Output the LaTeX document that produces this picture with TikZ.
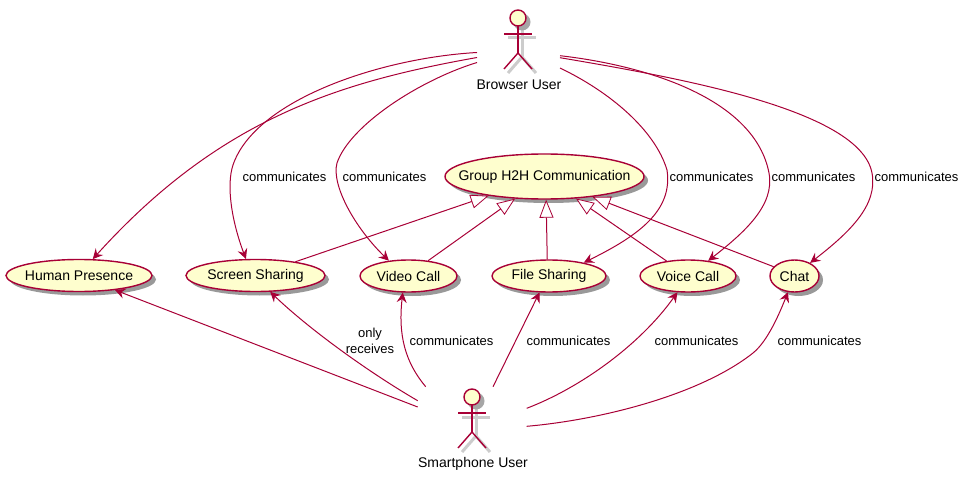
\documentclass[tikz,border=0pt]{standalone}
\usepackage{fontspec}
\setmainfont{Liberation Sans}
\usetikzlibrary{arrows.meta, shapes.geometric, shadows}
\definecolor{umlred}{HTML}{A80036}
\definecolor{umlfill}{HTML}{FEFECE}
\newcommand{\uctext}[1]{\makebox[0pt]{#1}}
\tikzset{
	usecase/.style={ellipse, draw=umlred, fill=umlfill, line width=1.4pt, inner sep=0pt, minimum height=32pt,
		font=\fontsize{14}{16}\selectfont, drop shadow={shadow xshift=4pt, shadow yshift=-4pt, fill=black, opacity=0.4}},
	comm/.style={font=\fontsize{13}{16}\selectfont, inner sep=0pt, align=center},
	actorlabel/.style={font=\fontsize{14}{16}\selectfont, inner sep=0pt},
	flow/.style={draw=umlred, line width=1pt, -{Stealth[length=10pt, width=10pt, inset=3.5pt, umlred]}},
	generalize/.style={draw=umlred, line width=1pt, -{Triangle[length=18pt, width=14pt, fill=white, line width=0.8pt]}},
	actor/.pic={
		% shadow first
		\draw[black!20, line width=3pt] (4,12) -- (4,39) (-10,20) -- (18,20);
		\draw[black!20, line width=3pt] (-10,55) -- (4,39) -- (18,55);
		\fill[black!35] (4,4) circle (8.5);
		% figure
		\draw[umlred, fill=umlfill, line width=1.4pt] (0,0) circle (8);
		\draw[umlred, line width=1.4pt] (0,8) -- (0,35) (-14,16) -- (14,16);
		\draw[umlred, line width=1.4pt] (-14,51) -- (0,35) -- (14,51);
	}
}

\begin{document}
\begin{tikzpicture}[x=1pt, y=-1pt]
	\useasboundingbox (0,0) rectangle (969,481);

	% Draw actors
	\pic at (518,18) {actor};
	\pic at (472,397) {actor};
	\node[actorlabel] (browserlabel) at (519,85) {Browser User};
	\node[actorlabel] (phonelabel) at (473,464) {Smartphone User};

	% Free ends next to the actors
	\coordinate (browserA) at (477,52.5);
	\coordinate (browserB) at (477,57.5);
	\coordinate (browserC) at (477,62.5);
	\coordinate (browserD) at (560,55.7);
	\coordinate (browserE) at (560,57.7);
	\coordinate (browserF) at (560,68);
	\coordinate (phoneA) at (417.7,407);
	\coordinate (phoneB) at (417.7,400.7);
	\coordinate (phoneC) at (425.7,386.7);
	\coordinate (phoneD) at (493,386.7);
	\coordinate (phoneE) at (526.7,408.3);
	\coordinate (phoneF) at (526.7,426.3);

	% Draw use cases
	\node[usecase, minimum width=199pt, minimum height=45pt] (group) at (544.5,176.5) {\uctext{Group H2H Communication}};
	\node[usecase, minimum width=146pt] (presence) at (79,275.5) {\uctext{Human Presence}};
	\node[usecase, minimum width=139pt] (screen) at (255.5,275.5) {\uctext{Screen Sharing}};
	\node[usecase, minimum width=97pt] (video) at (408.5,276) {\uctext{Video Call}};
	\node[usecase, minimum width=114pt] (file) at (549,276) {\uctext{File Sharing}};
	\node[usecase, minimum width=96pt] (voice) at (688,276) {\uctext{Voice Call}};
	\node[usecase, minimum width=49pt] (chat) at (794.5,276) {\uctext{Chat}};

	% Specialisations of the group use case
	\draw[generalize] (screen.19.8) -- (group.199.3);
	\draw[generalize] (video.38) -- (group.217);
	\draw[generalize] (file.96) -- (group.274);
	\draw[generalize] (voice.145) -- (group.325);
	\draw[generalize] (chat.156.6) -- (group.337.8);

	% Browser user to use cases
	\draw[flow] (browserB) .. controls (340,82) and (220,118) .. (presence.50);
	\draw[flow] (browserA) .. controls (380,58) and (255,100) .. (233,165)
		.. controls (226,186) and (232,222) .. (screen.120);
	\draw[flow] (browserC) .. controls (420,80) and (350,125) .. (337,163)
		.. controls (331,185) and (355,228) .. (video.142);
	\draw[flow] (browserF) .. controls (610,92) and (655,130) .. (667,170)
		.. controls (673,210) and (640,235) .. (file.21.5);
	\draw[flow] (browserD) .. controls (650,66) and (755,100) .. (769,173)
		.. controls (775,205) and (745,232) .. (voice.37);
	\draw[flow] (browserE) .. controls (680,78) and (860,110) .. (872,173)
		.. controls (878,205) and (850,232) .. (chat.40);

	% Smartphone user to use cases
	\draw[flow] (phoneA) -- (presence.-22);
	\draw[flow] (phoneB) .. controls (370,373) and (310,330) .. (screen.-48);
	\draw[flow] (phoneC) .. controls (405,362) and (398,335) .. (video.251);
	\draw[flow] (phoneD) -- (file.240.5);
	\draw[flow] (phoneE) .. controls (580,388) and (640,345) .. (voice.237);
	\draw[flow] (phoneF) .. controls (600,420) and (700,395) .. (753,353)
		.. controls (768,341) and (780,312) .. (chat.248);

	% Labels on the connectors
	\node[comm] (lblscreen) at (284.5,177) {communicates};
	\node[comm] (lblvideo) at (384.5,177) {communicates};
	\node[comm] (lblfile) at (711.5,177) {communicates};
	\node[comm] (lblvoice) at (813.5,177) {communicates};
	\node[comm] (lblchat) at (916.5,177) {communicates};
	\node[comm] (lblonly) at (370,341) {only\\receives};
	\node[comm] (lblphonevideo) at (451.5,341) {communicates};
	\node[comm] (lblphonefile) at (568.5,341) {communicates};
	\node[comm] (lblphonevoice) at (696.5,341) {communicates};
	\node[comm] (lblphonechat) at (819.5,341) {communicates};
\end{tikzpicture}
\end{document}
